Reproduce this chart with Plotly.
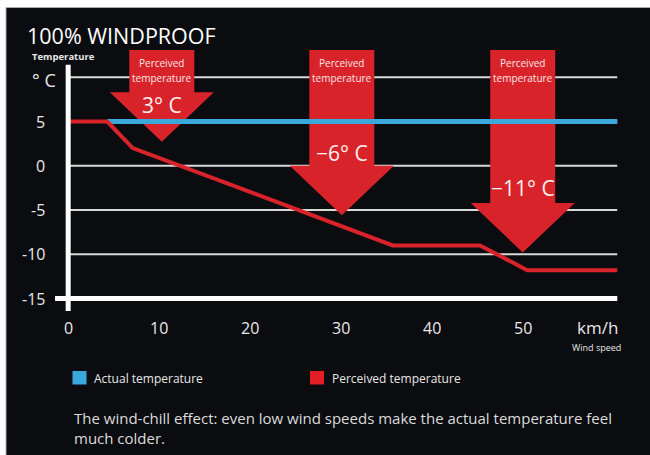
import plotly.graph_objects as go

# ---- data -------------------------------------------------------------
actual_speed = [4.3, 60.4]
actual_temp = [5, 5]

perceived_speed = [0, 4.3, 7.1, 35.7, 45.3, 50.5, 60.4]
perceived_temp = [5, 5, 2, -9, -9, -11.8, -11.8]

y_tick_values = [5, 0, -5, -10, -15]
y_tick_labels = ["5", "0", "-5", "-10", "-15"]
x_tick_values = [0, 10, 20, 30, 40, 50]
x_tick_labels = ["0", "10", "20", "30", "40", "50"]

callout_speeds = [10.3, 30.1, 50.0]
callout_values = [3, -6, -11]
callout_tips = [2.7, -5.6, -9.8]

# ---- colours ----------------------------------------------------------
BLUE = "#3ba8dc"
RED = "#d8232b"
PANEL = "#0b0c0f"
TEXT = "#e8e8e8"
FONT = "Open Sans"

# ---- layout geometry (plot area in pixels) ----------------------------
W, H = 650, 455
L, R, T, B = 20, 20, 40, 135
PW, PH = W - L - R, H - T - B
X_RANGE = [-5.30, 61.80]
Y_RANGE = [-17.43, 14.21]
XS = PW / (X_RANGE[1] - X_RANGE[0])   # px per km/h
YS = PH / (Y_RANGE[1] - Y_RANGE[0])   # px per degree

# vertical offset (px) of each callout's value text from its arrow head base
VALUE_OFFSETS = [-13, 13, 15]


def px_x(px):
    return (px - L) / PW


def px_y(py):
    return (H - B - py) / PH


fig = go.Figure()

fig.add_trace(go.Scatter(x=actual_speed, y=actual_temp, mode="lines",
                         line=dict(color=BLUE, width=5), hoverinfo="skip"))
fig.add_trace(go.Scatter(x=perceived_speed, y=perceived_temp, mode="lines",
                         line=dict(color=RED, width=4, shape="linear"),
                         hoverinfo="skip"))

shapes = []
# dark panel behind the chart
shapes.append(dict(type="rect", xref="paper", yref="paper",
                   x0=px_x(6), x1=px_x(651), y0=px_y(456), y1=px_y(7.5),
                   fillcolor=PANEL, line=dict(color="#a8a8a8", width=1),
                   layer="below"))
# horizontal guide lines
for lvl in [10] + y_tick_values[:-1]:
    shapes.append(dict(type="line", xref="x", yref="y", x0=0.2, x1=60.4,
                       y0=lvl, y1=lvl, line=dict(color="#d8d8d8", width=2),
                       layer="below"))
shapes.append(dict(type="line", xref="x", yref="y", x0=-1.45, x1=60.4,
                   y0=-15, y1=-15, line=dict(color="white", width=5),
                   layer="below"))

# callout arrows
shaft_half = 32.5 / XS
head_half = 52 / XS
head_len = 49.5 / YS
shaft_top = 14.21 - 10 / YS
for sx, tip in zip(callout_speeds, callout_tips):
    hy = tip + head_len
    path = (f"M {sx - shaft_half},{shaft_top} L {sx + shaft_half},{shaft_top} "
            f"L {sx + shaft_half},{hy} L {sx + head_half},{hy} "
            f"L {sx},{tip} L {sx - head_half},{hy} "
            f"L {sx - shaft_half},{hy} Z")
    shapes.append(dict(type="path", xref="x", yref="y", path=path,
                       fillcolor=RED, line=dict(width=0), layer="below"))

# vertical axis bar
shapes.append(dict(type="line", xref="x", yref="y", x0=0, x1=0,
                   y0=11.4, y1=-16.4, line=dict(color="white", width=5),
                   layer="above"))

# legend swatches
shapes.append(dict(type="rect", xref="paper", yref="paper",
                   x0=px_x(72.5), x1=px_x(86.5), y0=px_y(384.5), y1=px_y(371),
                   fillcolor=BLUE, line=dict(width=0)))
shapes.append(dict(type="rect", xref="paper", yref="paper",
                   x0=px_x(310), x1=px_x(324), y0=px_y(384.5), y1=px_y(371),
                   fillcolor="#e31e24", line=dict(width=0)))

ann = []


def text(s, x, y, size, color=TEXT, xanchor="left", xref="paper", yref="paper"):
    ann.append(dict(text=s, x=x, y=y, xref=xref, yref=yref, xanchor=xanchor,
                    yanchor="middle", showarrow=False,
                    font=dict(family=FONT, size=size, color=color)))


text("100% WINDPROOF", px_x(25), px_y(35), 21.5, color="white")
text("<b>Temperature</b>", px_x(30), px_y(56), 9.5)
text("° C", px_x(30), px_y(80), 18)

for v, lab in zip(y_tick_values, y_tick_labels):
    ann.append(dict(text=lab, x=px_x(47), y=v, xref="paper", yref="y",
                    xanchor="right", yanchor="middle", showarrow=False,
                    font=dict(family=FONT, size=16, color=TEXT)))
for v, lab in zip(x_tick_values, x_tick_labels):
    ann.append(dict(text=lab, x=v, y=px_y(328), xref="x", yref="paper",
                    xanchor="center", yanchor="middle", showarrow=False,
                    font=dict(family=FONT, size=16, color=TEXT)))
text("km/h", px_x(597), px_y(327), 17, xanchor="center")
text("Wind speed", px_x(596), px_y(347), 9, xanchor="center")

# callout texts
for sx, tip, val, off in zip(callout_speeds, callout_tips, callout_values,
                             VALUE_OFFSETS):
    ann.append(dict(text="Perceived", x=sx, y=px_y(63), xref="x", yref="paper",
                    xanchor="center", yanchor="middle", showarrow=False,
                    font=dict(family=FONT, size=10, color="#fbe6e6")))
    ann.append(dict(text="temperature", x=sx, y=px_y(78), xref="x",
                    yref="paper", xanchor="center", yanchor="middle",
                    showarrow=False,
                    font=dict(family=FONT, size=10, color="#fbe6e6")))
    label = (f"\u2212{abs(val)}° C" if val < 0 else f"{val}° C")
    ann.append(dict(text=label, x=sx, y=tip + head_len + off / YS, xref="x",
                    yref="y", xanchor="center", yanchor="middle",
                    showarrow=False,
                    font=dict(family=FONT, size=21, color="#fdf0f0")))

# legend labels
text("Actual temperature", px_x(92), px_y(378), 12)
text("Perceived temperature", px_x(330), px_y(378), 12)

# caption
text("The wind-chill effect: even low wind speeds make the actual temperature feel",
     px_x(72), px_y(418), 15, color="#dcdcdc")
text("much colder.", px_x(72), px_y(438), 15, color="#dcdcdc")

fig.update_layout(
    width=W, height=H,
    margin=dict(l=L, r=R, t=T, b=B, pad=0),
    paper_bgcolor="white",
    plot_bgcolor="rgba(0,0,0,0)",
    showlegend=False,
    xaxis=dict(range=X_RANGE, visible=False, fixedrange=True),
    yaxis=dict(range=Y_RANGE, visible=False, fixedrange=True),
    shapes=shapes,
    annotations=ann,
)

fig.write_html("out.html", config={"displayModeBar": False})
